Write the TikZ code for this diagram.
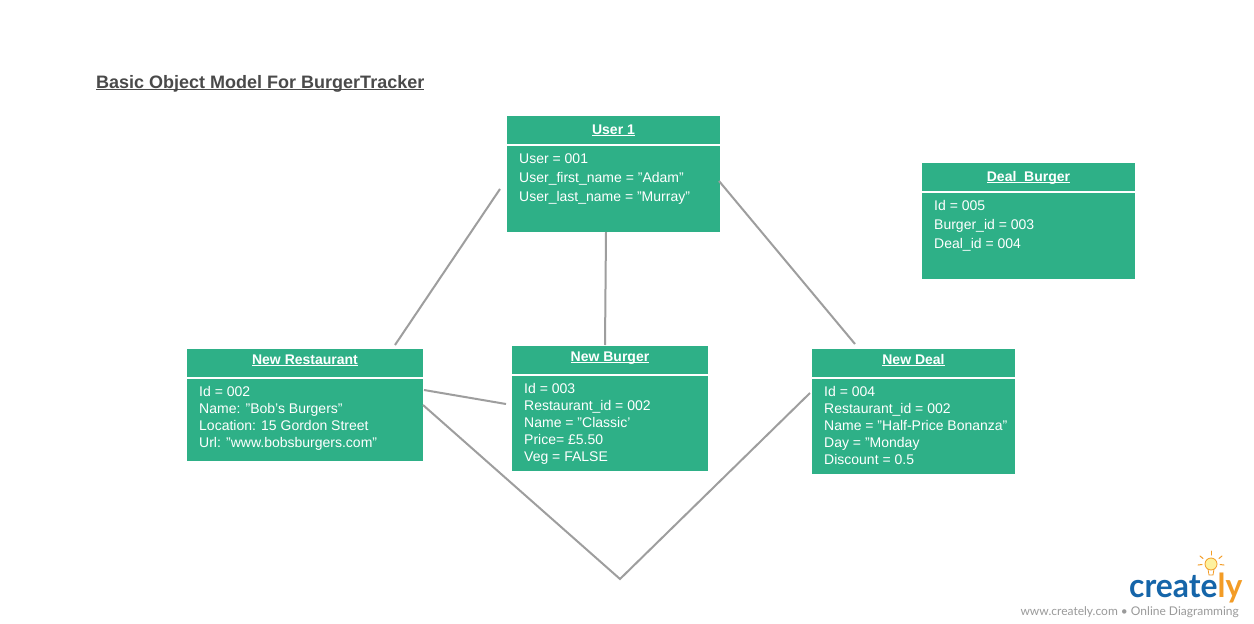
\documentclass[tikz,border=0pt]{standalone}
\usepackage{fontspec}
\setmainfont{Liberation Sans}
\newfontfamily\logofont{Lato}
\definecolor{boxgreen}{HTML}{2EB087}
\definecolor{linegray}{HTML}{9E9E9E}
\definecolor{titlegray}{HTML}{4A4A4A}
\definecolor{logoblue}{HTML}{1565A9}
\definecolor{logoorange}{HTML}{F39C26}
\definecolor{logogray}{HTML}{9A9A9A}
\tikzset{
  x=1pt,y=-1pt,
  panel/.style={fill=boxgreen,draw=none,inner sep=0pt,outer sep=0pt,anchor=north west},
  headtext/.style={text=white,font=\fontsize{14}{16}\selectfont\bfseries,inner sep=0pt,anchor=base},
  bodytext/.style={text=white,align=left,anchor=north west,inner sep=0pt,font=\fontsize{14}{#1}\selectfont},
  conn/.style={draw=linegray,line width=2pt},
  ray/.style={draw=logoorange,line width=1pt,line cap=round}
}
\newcommand{\ulsmash}[1]{\underline{\smash{#1}}}
\newcommand{\umlbox}[9]{%
  % name, x, y, w, headh, bodyh, bodyy, title baseline y, title
  \node[panel,minimum width=#4pt,minimum height=#5pt] (#1head) at (#2,#3) {};
  \node[panel,minimum width=#4pt,minimum height=#6pt] (#1body) at (#2,#7) {};
  \node[headtext] (#1title) at (#1head.center |- 0,#8) {\ulsmash{#9}};
}
\begin{document}
\begin{tikzpicture}
\useasboundingbox (0,0) rectangle (1254,624);
\fill[white] (0,0) rectangle (1254,624);

\node[anchor=base west,inner sep=0pt,text=titlegray,font=\fontsize{18}{20}\selectfont\bfseries] (title) at (96,88) {\ulsmash{Basic Object Model For BurgerTracker}};

\umlbox{user}{507}{116}{213}{28}{86}{146}{134}{User 1}
\node[bodytext=19pt] (usertext) at (519,154) {User = 001\\User\_first\_name = "Adam"\\User\_last\_name = "Murray"};

\umlbox{dealburger}{922}{163}{213}{28}{86}{193}{181}{Deal\_Burger}
\node[bodytext=19pt] (dealburgertext) at (934,200) {Id = 005\\Burger\_id = 003\\Deal\_id = 004};

\umlbox{rest}{187}{349}{236}{28}{82}{379}{364}{New Restaurant}
\node[bodytext=17pt] (resttext) at (199,386) {Id = 002\\Name: "Bob's Burgers"\\Location: 15 Gordon Street\\Url: "www.bobsburgers.com"};

\umlbox{burger}{512}{346}{196}{28}{95}{376}{361}{New Burger}
\node[bodytext=17pt] (burgertext) at (524,383) {Id = 003\\Restaurant\_id = 002\\Name = "Classic'\\Price= £5.50\\Veg = FALSE};

\umlbox{deal}{812}{349}{203}{28}{95}{379}{364}{New Deal}
\node[bodytext=17pt] (dealtext) at (824,386) {Id = 004\\Restaurant\_id = 002\\Name = "Half-Price Bonanza"\\Day = "Monday\\Discount = 0.5};

\coordinate (a1) at (500,189); \coordinate (a2) at (395,345);
\coordinate (b1) at (606,232); \coordinate (b2) at (605,345);
\coordinate (c1) at (719,181); \coordinate (c2) at (855,344);
\coordinate (d1) at (424,390); \coordinate (d2) at (506,404);
\coordinate (e1) at (423,405); \coordinate (e2) at (620,579); \coordinate (e3) at (810,393);
\draw[conn] (a1) -- (a2);
\draw[conn] (b1) -- (b2);
\draw[conn] (c1) -- (c2);
\draw[conn] (d1) -- (d2);
\draw[conn,line join=miter] (e1) -- (e2) -- (e3);

% logo
\node[anchor=base west,inner sep=0pt,text=logoblue,font=\logofont\fontsize{33}{36}\selectfont\bfseries,xscale=.965,transform shape] (logoword) at (1129,597) {create\textcolor{logoorange}{ly}};
\node[anchor=base east,inner sep=0pt,text=logogray,font=\logofont\fontsize{12}{14}\selectfont] (logotag) at (1239,615) {www.creately.com • Online Diagramming};
\fill[logoorange!35!yellow!40] (1211,564) circle (6);
\draw[logoorange,line width=.8pt] (1208,569) -- (1209,575) -- (1213,575) -- (1214,569);
\draw[logoorange,line width=.8pt] (1211,564) circle (6);
\draw[ray] (1211,551) -- (1211,555);
\draw[ray] (1200,556) -- (1203,558.5);
\draw[ray] (1222,556) -- (1219,558.5);
\draw[ray] (1198,565) -- (1202,564.5);
\draw[ray] (1224,565) -- (1220,564.5);
\end{tikzpicture}
\end{document}
